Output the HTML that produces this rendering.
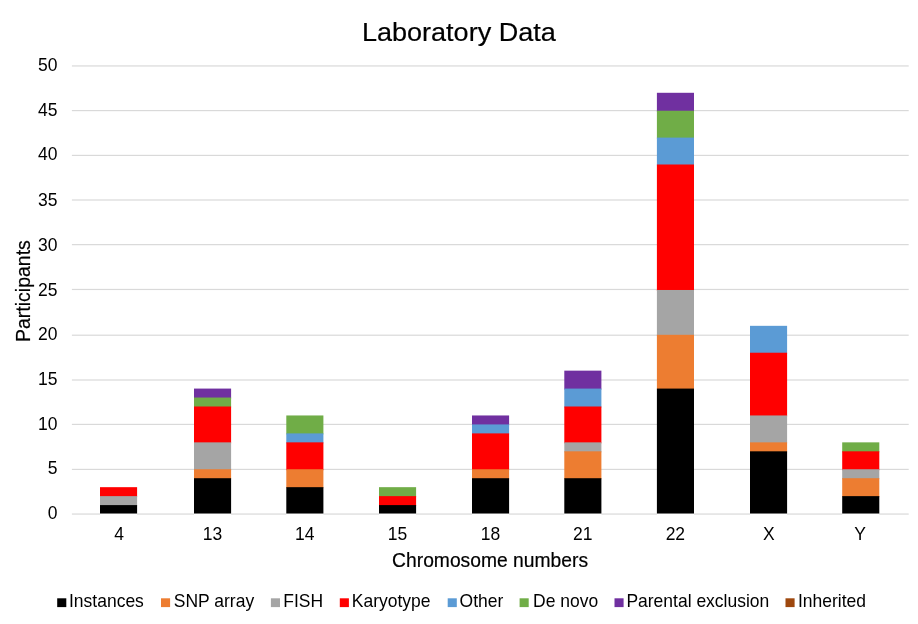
<!DOCTYPE html>
<html><head><meta charset="utf-8"><title>Laboratory Data</title>
<style>
html,body{margin:0;padding:0;background:#fff;}
body{width:918px;height:624px;overflow:hidden;font-family:"Liberation Sans",sans-serif;}
svg{display:block;filter:blur(0.33px);}
svg text{font-family:"Liberation Sans",sans-serif;fill:#000;stroke:#000;stroke-width:0px;}
.t{font-size:17.5px}.a{font-size:19.2px;stroke-width:0.2px}.l{font-size:17.5px}.h{stroke-width:0.2px}
</style></head><body>
<svg width="918" height="624" viewBox="0 0 918 624">
<rect x="0" y="0" width="918" height="624" fill="#ffffff"/>
<!-- gridlines -->
<g fill="#D9D9D9">
<rect x="71.9" y="513.46" width="836.8" height="1.2"/>
<rect x="71.9" y="468.80" width="836.8" height="1.2"/>
<rect x="71.9" y="423.80" width="836.8" height="1.2"/>
<rect x="71.9" y="379.40" width="836.8" height="1.2"/>
<rect x="71.9" y="334.60" width="836.8" height="1.2"/>
<rect x="71.9" y="288.85" width="836.8" height="1.2"/>
<rect x="71.9" y="244.05" width="836.8" height="1.2"/>
<rect x="71.9" y="199.40" width="836.8" height="1.2"/>
<rect x="71.9" y="154.82" width="836.8" height="1.2"/>
<rect x="71.9" y="110.00" width="836.8" height="1.2"/>
<rect x="71.9" y="65.35" width="836.8" height="1.2"/>
</g>
<!-- y axis tick labels -->
<g class="t" text-anchor="end">
<text transform="translate(57.50,518.90) scale(1,1.06)">0</text>
<text transform="translate(57.50,473.90) scale(1,1.06)">5</text>
<text transform="translate(57.50,429.70) scale(1,1.06)">10</text>
<text transform="translate(57.50,384.70) scale(1,1.06)">15</text>
<text transform="translate(57.50,339.85) scale(1,1.06)">20</text>
<text transform="translate(57.50,295.70) scale(1,1.06)">25</text>
<text transform="translate(57.50,250.90) scale(1,1.06)">30</text>
<text transform="translate(57.50,205.90) scale(1,1.06)">35</text>
<text transform="translate(57.50,160.40) scale(1,1.06)">40</text>
<text transform="translate(57.50,115.80) scale(1,1.06)">45</text>
<text transform="translate(57.50,70.90) scale(1,1.06)">50</text>
</g>
<!-- bars -->
<g>
<rect x="100.00" y="513.51" width="37.1" height="2" fill="#fff"/>
<rect x="100.00" y="487.17" width="37.1" height="9.96" fill="#FF0000"/>
<rect x="100.00" y="496.13" width="37.1" height="9.96" fill="#A5A5A5"/>
<rect x="100.00" y="505.10" width="37.1" height="8.41" fill="#000000"/>
</g>
<g>
<rect x="194.00" y="513.51" width="37.1" height="2" fill="#fff"/>
<rect x="194.00" y="388.58" width="37.1" height="9.96" fill="#7030A0"/>
<rect x="194.00" y="397.54" width="37.1" height="9.96" fill="#70AD47"/>
<rect x="194.00" y="406.50" width="37.1" height="36.85" fill="#FF0000"/>
<rect x="194.00" y="442.35" width="37.1" height="27.89" fill="#A5A5A5"/>
<rect x="194.00" y="469.24" width="37.1" height="9.96" fill="#ED7D31"/>
<rect x="194.00" y="478.21" width="37.1" height="35.30" fill="#000000"/>
</g>
<g>
<rect x="286.30" y="513.51" width="37.1" height="2" fill="#fff"/>
<rect x="286.30" y="415.46" width="37.1" height="18.93" fill="#70AD47"/>
<rect x="286.30" y="433.39" width="37.1" height="9.96" fill="#5B9BD5"/>
<rect x="286.30" y="442.35" width="37.1" height="27.89" fill="#FF0000"/>
<rect x="286.30" y="469.24" width="37.1" height="18.93" fill="#ED7D31"/>
<rect x="286.30" y="487.17" width="37.1" height="26.34" fill="#000000"/>
</g>
<g>
<rect x="379.00" y="513.51" width="37.1" height="2" fill="#fff"/>
<rect x="379.00" y="487.17" width="37.1" height="9.96" fill="#70AD47"/>
<rect x="379.00" y="496.13" width="37.1" height="9.96" fill="#FF0000"/>
<rect x="379.00" y="505.10" width="37.1" height="8.41" fill="#000000"/>
</g>
<g>
<rect x="472.00" y="513.51" width="37.1" height="2" fill="#fff"/>
<rect x="472.00" y="415.46" width="37.1" height="9.96" fill="#7030A0"/>
<rect x="472.00" y="424.43" width="37.1" height="9.96" fill="#5B9BD5"/>
<rect x="472.00" y="433.39" width="37.1" height="36.85" fill="#FF0000"/>
<rect x="472.00" y="469.24" width="37.1" height="9.96" fill="#ED7D31"/>
<rect x="472.00" y="478.21" width="37.1" height="35.30" fill="#000000"/>
</g>
<g>
<rect x="564.30" y="513.51" width="37.1" height="2" fill="#fff"/>
<rect x="564.30" y="370.65" width="37.1" height="18.93" fill="#7030A0"/>
<rect x="564.30" y="388.58" width="37.1" height="18.93" fill="#5B9BD5"/>
<rect x="564.30" y="406.50" width="37.1" height="36.85" fill="#FF0000"/>
<rect x="564.30" y="442.35" width="37.1" height="9.96" fill="#A5A5A5"/>
<rect x="564.30" y="451.32" width="37.1" height="27.89" fill="#ED7D31"/>
<rect x="564.30" y="478.21" width="37.1" height="35.30" fill="#000000"/>
</g>
<g>
<rect x="656.90" y="513.51" width="37.1" height="2" fill="#fff"/>
<rect x="656.90" y="92.79" width="37.1" height="18.93" fill="#7030A0"/>
<rect x="656.90" y="110.72" width="37.1" height="27.89" fill="#70AD47"/>
<rect x="656.90" y="137.61" width="37.1" height="27.89" fill="#5B9BD5"/>
<rect x="656.90" y="164.50" width="37.1" height="126.48" fill="#FF0000"/>
<rect x="656.90" y="289.98" width="37.1" height="45.82" fill="#A5A5A5"/>
<rect x="656.90" y="334.80" width="37.1" height="54.78" fill="#ED7D31"/>
<rect x="656.90" y="388.58" width="37.1" height="124.93" fill="#000000"/>
</g>
<g>
<rect x="750.00" y="513.51" width="37.1" height="2" fill="#fff"/>
<rect x="750.00" y="325.83" width="37.1" height="27.89" fill="#5B9BD5"/>
<rect x="750.00" y="352.72" width="37.1" height="63.74" fill="#FF0000"/>
<rect x="750.00" y="415.46" width="37.1" height="27.89" fill="#A5A5A5"/>
<rect x="750.00" y="442.35" width="37.1" height="9.96" fill="#ED7D31"/>
<rect x="750.00" y="451.32" width="37.1" height="62.19" fill="#000000"/>
</g>
<g>
<rect x="842.20" y="513.51" width="37.1" height="2" fill="#fff"/>
<rect x="842.20" y="442.35" width="37.1" height="9.96" fill="#70AD47"/>
<rect x="842.20" y="451.32" width="37.1" height="18.93" fill="#FF0000"/>
<rect x="842.20" y="469.24" width="37.1" height="9.96" fill="#A5A5A5"/>
<rect x="842.20" y="478.21" width="37.1" height="18.93" fill="#ED7D31"/>
<rect x="842.20" y="496.13" width="37.1" height="17.38" fill="#000000"/>
</g>
<!-- x axis tick labels -->
<g class="t" text-anchor="middle">
<text transform="translate(119.15,539.8) scale(1,1.06)">4</text>
<text transform="translate(212.45,539.8) scale(1,1.06)">13</text>
<text transform="translate(304.75,539.8) scale(1,1.06)">14</text>
<text transform="translate(397.45,539.8) scale(1,1.06)">15</text>
<text transform="translate(490.45,539.8) scale(1,1.06)">18</text>
<text transform="translate(582.75,539.8) scale(1,1.06)">21</text>
<text transform="translate(675.35,539.8) scale(1,1.06)">22</text>
<text transform="translate(768.85,539.8) scale(1,1.06)">X</text>
<text transform="translate(860.15,539.8) scale(1,1.06)">Y</text>
</g>
<text transform="translate(361.90,41) scale(1.021,1)" font-size="26.5" class="h">Laboratory Data</text>
<text class="a" transform="translate(392.10,566.6) scale(1.004,1.03)">Chromosome numbers</text>
<text class="a" transform="translate(30.00,342.00) rotate(-90) scale(1.016,1.03)">Participants</text>
<!-- legend -->
<g class="l">
<rect x="57.20" y="598.30" width="9.1" height="8.8" fill="#000000"/><text transform="translate(69.00,606.9) scale(1,1.035)">Instances</text>
<rect x="161.00" y="598.30" width="9.1" height="8.8" fill="#ED7D31"/><text transform="translate(173.80,606.9) scale(1,1.035)">SNP array</text>
<rect x="270.90" y="598.30" width="9.1" height="8.8" fill="#A5A5A5"/><text transform="translate(283.20,606.9) scale(1,1.035)">FISH</text>
<rect x="339.80" y="598.30" width="9.1" height="8.8" fill="#FF0000"/><text transform="translate(351.80,606.9) scale(1,1.035)">Karyotype</text>
<rect x="447.70" y="598.30" width="9.1" height="8.8" fill="#5B9BD5"/><text transform="translate(459.60,606.9) scale(1,1.035)">Other</text>
<rect x="519.60" y="598.30" width="9.1" height="8.8" fill="#70AD47"/><text transform="translate(533.10,606.9) scale(1,1.035)">De novo</text>
<rect x="614.50" y="598.30" width="9.1" height="8.8" fill="#7030A0"/><text transform="translate(626.40,606.9) scale(1,1.035)">Parental exclusion</text>
<rect x="785.50" y="598.30" width="9.1" height="8.8" fill="#9E480E"/><text transform="translate(798.00,606.9) scale(1,1.035)">Inherited</text>
</g>
</svg>
</body></html>
